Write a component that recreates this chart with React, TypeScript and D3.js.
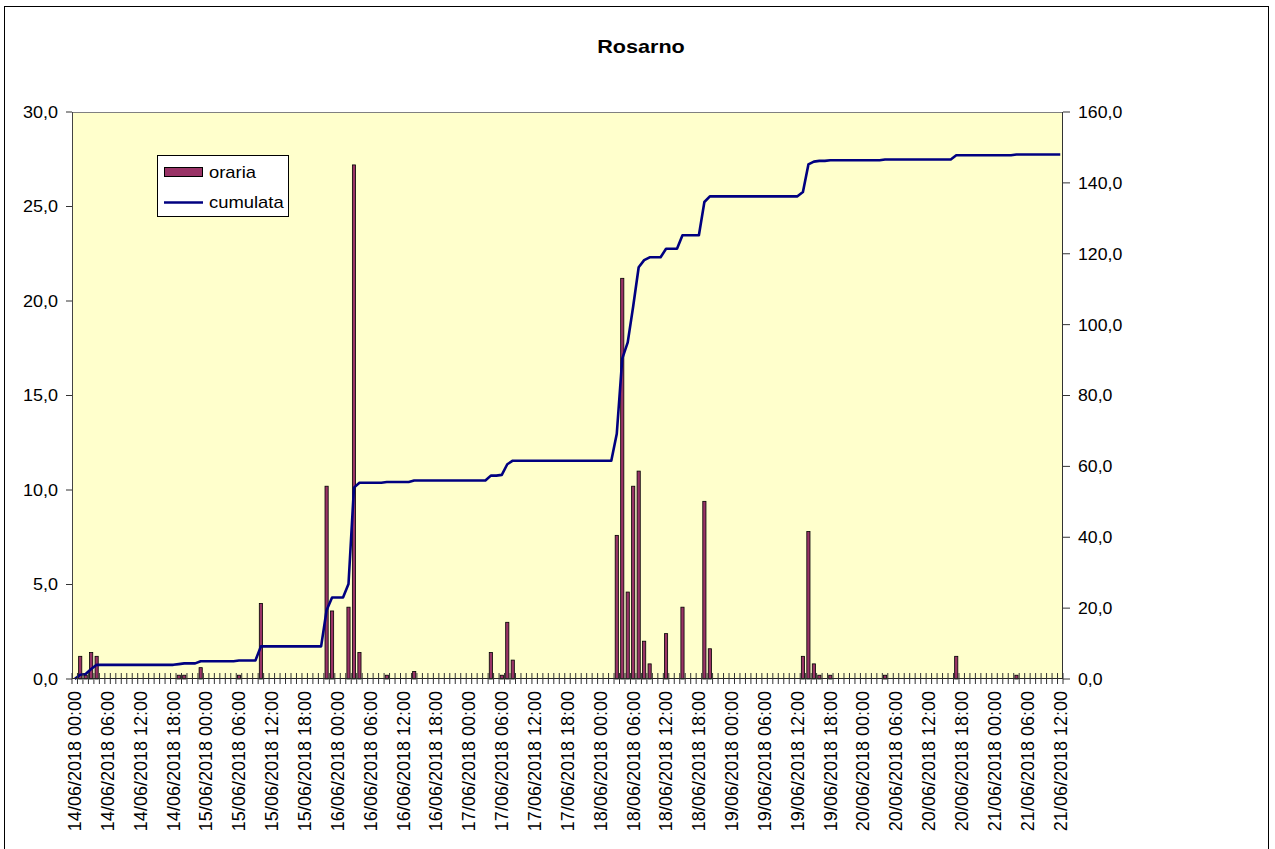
import React from "react";
import * as d3 from "d3";

// Hourly rainfall (mm) from 14/06/2018 00:00 to 21/06/2018 12:00, one value per hour
const hourly: number[] = [
  // 14/06
  0, 1.2, 0.2, 1.4, 1.2, 0, 0, 0, 0, 0, 0, 0, 0, 0, 0, 0, 0, 0, 0, 0.2, 0.2, 0, 0, 0.6,
  // 15/06
  0, 0, 0, 0, 0, 0, 0.2, 0, 0, 0, 4.0, 0, 0, 0, 0, 0, 0, 0, 0, 0, 0, 0, 10.2, 3.6,
  // 16/06
  0, 0, 3.8, 27.2, 1.4, 0, 0, 0, 0, 0.2, 0, 0, 0, 0, 0.4, 0, 0, 0, 0, 0, 0, 0, 0, 0,
  // 17/06
  0, 0, 0, 0, 1.4, 0, 0.2, 3.0, 1.0, 0, 0, 0, 0, 0, 0, 0, 0, 0, 0, 0, 0, 0, 0, 0,
  // 18/06
  0, 0, 0, 7.6, 21.2, 4.6, 10.2, 11.0, 2.0, 0.8, 0, 0, 2.4, 0, 0, 3.8, 0, 0, 0, 9.4, 1.6, 0, 0, 0,
  // 19/06
  0, 0, 0, 0, 0, 0, 0, 0, 0, 0, 0, 0, 0, 1.2, 7.8, 0.8, 0.2, 0, 0.2, 0, 0, 0, 0, 0,
  // 20/06
  0, 0, 0, 0, 0.2, 0, 0, 0, 0, 0, 0, 0, 0, 0, 0, 0, 0, 1.2, 0, 0, 0, 0, 0, 0,
  // 21/06
  0, 0, 0, 0, 0.2, 0, 0, 0, 0, 0, 0, 0, 0,
];

const startTime = new Date(2018, 5, 14, 0, 0);
const categories: Date[] = hourly.map((_, i) => d3.timeHour.offset(startTime, i));
const labelEvery = 6;
const leftTicks = [0, 5, 10, 15, 20, 25, 30];
const rightTicks = [0, 20, 40, 60, 80, 100, 120, 140, 160];
const seriesNames = ["oraria", "cumulata"];
const chartTitle = "Rosarno";

const W = 1275;
const H = 849;
const M = { left: 72, right: 1063, top: 112, bottom: 679 };
const FONT = "'Liberation Sans', Arial, Helvetica, sans-serif";
const BAR_FILL = "#993366";
const LINE_COLOR = "#000080";
const PLOT_BG = "#FFFFCC";

const locale = d3.formatLocale({ decimal: ",", thousands: ".", grouping: [3], currency: ["€", ""] });
const fmt = locale.format(".1f");
const timeFmt = d3.timeFormat("%d/%m/%Y %H:%M");

export default function App() {
  const n = hourly.length;
  const cumulative = Array.from(d3.cumsum(hourly));

  const xBand = d3
    .scaleBand<number>()
    .domain(d3.range(n))
    .range([M.left, M.right])
    .paddingInner(0.42)
    .paddingOuter(0.21);
  const xEdge = d3.scaleLinear().domain([0, n]).range([M.left, M.right]);
  const xc = (i: number) => (xBand(i) as number) + xBand.bandwidth() / 2;

  const yL = d3.scaleLinear().domain([0, 30]).range([M.bottom, M.top]);
  const yR = d3.scaleLinear().domain([0, 160]).range([M.bottom, M.top]);

  const line = d3
    .line<number>()
    .x((_, i) => xc(i))
    .y((d) => yR(d));

  return (
    <svg
      width={W}
      height={H}
      style={{ position: "absolute", left: 0, top: 0, background: "#fff" }}
      fontFamily={FONT}
    >
      {/* outer border */}
      <rect x={4.5} y={6.5} width={1264} height={H + 10} fill="#fff" stroke="#000" strokeWidth={1} />

      {/* title */}
      <text
        transform={`translate(641,53) scale(1.2,1)`}
        textAnchor="middle"
        fontSize={18}
        fontWeight="bold"
        fill="#000"
      >
        {chartTitle}
      </text>

      {/* plot area */}
      <rect x={M.left} y={M.top} width={M.right - M.left} height={M.bottom - M.top} fill={PLOT_BG} />
      <line x1={M.left} x2={M.right} y1={M.top + 0.5} y2={M.top + 0.5} stroke="#808080" strokeWidth={1} />

      {/* bars */}
      {hourly.map((v, i) =>
        v > 0 ? (
          <rect
            key={"b" + i}
            x={xBand(i) as number}
            y={yL(v)}
            width={xBand.bandwidth()}
            height={yL(0) - yL(v)}
            fill={BAR_FILL}
            stroke="#000"
            strokeWidth={0.8}
          />
        ) : null
      )}

      {/* cumulative line */}
      <path
        d={line(cumulative) || ""}
        fill="none"
        stroke={LINE_COLOR}
        strokeWidth={2.6}
        strokeLinejoin="round"
      />

      {/* left axis */}
      <line x1={M.left + 0.5} x2={M.left + 0.5} y1={M.top} y2={M.bottom} stroke="#444" strokeWidth={1} />
      {leftTicks.map((t) => (
        <g key={"lt" + t}>
          <line x1={M.left - 6} x2={M.left} y1={yL(t)} y2={yL(t)} stroke="#333" strokeWidth={1} />
          <text
            transform={`translate(${M.left - 14},${yL(t)}) scale(1.06,1)`}
            textAnchor="end"
            dy="0.35em"
            fontSize={17}
            fill="#000"
          >
            {fmt(t)}
          </text>
        </g>
      ))}

      {/* right axis */}
      <line x1={M.right - 0.5} x2={M.right - 0.5} y1={M.top} y2={M.bottom} stroke="#333" strokeWidth={1} />
      {rightTicks.map((t) => (
        <g key={"rt" + t}>
          <line x1={M.right} x2={M.right + 7} y1={yR(t)} y2={yR(t)} stroke="#333" strokeWidth={1} />
          <text
            transform={`translate(${M.right + 15},${yR(t)}) scale(1.04,1)`}
            textAnchor="start"
            dy="0.35em"
            fontSize={17}
            fill="#000"
          >
            {fmt(t)}
          </text>
        </g>
      ))}

      {/* bottom axis */}
      <line x1={M.left} x2={M.right} y1={M.bottom - 0.5} y2={M.bottom - 0.5} stroke="#222" strokeWidth={1.2} />
      {d3.range(n + 1).map((k) => (
        <line
          key={"xt" + k}
          x1={xEdge(k)}
          x2={xEdge(k)}
          y1={M.bottom - 6}
          y2={M.bottom + 5}
          stroke="#333"
          strokeWidth={1}
        />
      ))}
      {categories.map((d, i) =>
        i % labelEvery === 0 ? (
          <text
            key={"xl" + i}
            transform={`translate(${xc(i)},${M.bottom + 12}) rotate(-90)`}
            textAnchor="end"
            dy="0.35em"
            fontSize={18}
            fill="#000"
          >
            {timeFmt(d)}
          </text>
        ) : null
      )}

      {/* legend */}
      <rect x={157.5} y={155.5} width={131} height={61} fill="#fff" stroke="#000" strokeWidth={1} />
      <rect x={164.5} y={167.5} width={38} height={9} fill={BAR_FILL} stroke="#000" strokeWidth={1} />
      <text transform="translate(209,178) scale(1.15,1)" fontSize={16} fill="#000">
        {seriesNames[0]}
      </text>
      <line x1={164} x2={203} y1={202.5} y2={202.5} stroke={LINE_COLOR} strokeWidth={2.6} />
      <text transform="translate(209,208) scale(1.15,1)" fontSize={16} fill="#000">
        {seriesNames[1]}
      </text>
    </svg>
  );
}
